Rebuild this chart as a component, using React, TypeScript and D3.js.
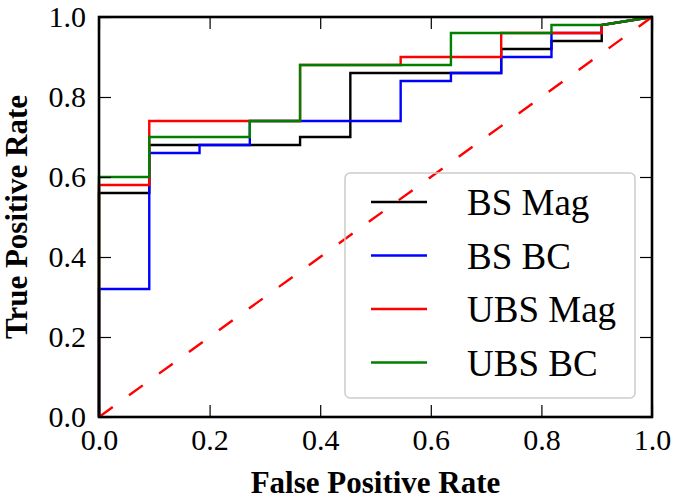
import React, { useEffect, useRef } from "react";
import * as d3 from "d3";

// FPR / TPR points (ROC step curves)
const bsMagFpr = [0, 0, 0.0909, 0.0909, 0.3636, 0.3636, 0.4545, 0.4545, 0.7273, 0.7273, 0.8182, 0.8182, 0.9091, 0.9091, 1];
const bsMagTpr = [0, 0.56, 0.56, 0.68, 0.68, 0.70, 0.70, 0.86, 0.86, 0.92, 0.92, 0.94, 0.94, 0.98, 1];

const bsBcFpr = [0, 0, 0.0909, 0.0909, 0.1818, 0.1818, 0.2727, 0.2727, 0.5455, 0.5455, 0.6364, 0.6364, 0.7273, 0.7273, 0.8182, 0.8182, 0.9091, 0.9091, 1];
const bsBcTpr = [0, 0.32, 0.32, 0.66, 0.66, 0.68, 0.68, 0.74, 0.74, 0.84, 0.84, 0.86, 0.86, 0.90, 0.90, 0.96, 0.96, 0.98, 1];

const ubsMagFpr = [0, 0, 0.0909, 0.0909, 0.3636, 0.3636, 0.5455, 0.5455, 0.7273, 0.7273, 0.9091, 0.9091, 1];
const ubsMagTpr = [0, 0.58, 0.58, 0.74, 0.74, 0.88, 0.88, 0.90, 0.90, 0.96, 0.96, 0.98, 1];

const ubsBcFpr = [0, 0, 0.0909, 0.0909, 0.2727, 0.2727, 0.3636, 0.3636, 0.6364, 0.6364, 0.8182, 0.8182, 0.9091, 1];
const ubsBcTpr = [0, 0.60, 0.60, 0.70, 0.70, 0.74, 0.74, 0.88, 0.88, 0.96, 0.96, 0.98, 0.98, 1];

const seriesNames = ["BS Mag", "BS BC", "UBS Mag", "UBS BC"];
const seriesColors = ["#000000", "#0000ff", "#ff0000", "#008000"];
const seriesFpr = [bsMagFpr, bsBcFpr, ubsMagFpr, ubsBcFpr];
const seriesTpr = [bsMagTpr, bsBcTpr, ubsMagTpr, ubsBcTpr];

const chanceX = [0, 1];
const chanceY = [0, 1];

const tickValues = [0, 0.2, 0.4, 0.6, 0.8, 1.0];
const xLabel = "False Positive Rate";
const yLabel = "True Positive Rate";

const W = 675;
const H = 500;
const M = { left: 99, right: 23, top: 17, bottom: 83 };
const FONT = "'Liberation Serif', 'Times New Roman', serif";

export default function App() {
  const ref = useRef<SVGSVGElement>(null);

  useEffect(() => {
    const svg = d3.select(ref.current);
    svg.selectAll("*").remove();

    const x = d3.scaleLinear().domain([0, 1]).range([M.left, W - M.right]);
    const y = d3.scaleLinear().domain([0, 1]).range([H - M.bottom, M.top]);

    const g = svg.append("g");

    const line = d3
      .line<[number, number]>()
      .x((d) => x(d[0]))
      .y((d) => y(d[1]));

    // curves
    seriesNames.forEach((name, i) => {
      const pts: [number, number][] = seriesFpr[i].map((f, j) => [f, seriesTpr[i][j]]);
      g.append("path")
        .attr("d", line(pts))
        .attr("fill", "none")
        .attr("stroke", seriesColors[i])
        .attr("stroke-width", 2.4)
        .attr("stroke-linejoin", "miter");
    });

    // chance diagonal
    g.append("path")
      .attr("d", line(chanceX.map((v, j) => [v, chanceY[j]] as [number, number])))
      .attr("fill", "none")
      .attr("stroke", "#ff0000")
      .attr("stroke-width", 2.4)
      .attr("stroke-dasharray", "17,20");

    const fmt = d3.format(".1f");
    const tickLen = 12;

    const styleAxis = (sel: any, labels: boolean) => {
      sel.select(".domain").remove();
      sel.selectAll(".tick line").attr("stroke", "#000").attr("stroke-width", 1.2);
      sel
        .selectAll(".tick text")
        .attr("font-family", FONT)
        .attr("font-size", 30)
        .attr("fill", "#000");
      if (!labels) sel.selectAll(".tick text").remove();
    };

    // bottom
    const ax = svg
      .append("g")
      .attr("transform", `translate(0,${H - M.bottom})`)
      .call(d3.axisBottom(x).tickValues(tickValues).tickFormat(fmt as any).tickSize(-tickLen).tickPadding(12));
    styleAxis(ax, true);
    // top
    const axT = svg
      .append("g")
      .attr("transform", `translate(0,${M.top})`)
      .call(d3.axisTop(x).tickValues(tickValues).tickSize(-tickLen));
    styleAxis(axT, false);
    // left
    const ay = svg
      .append("g")
      .attr("transform", `translate(${M.left},0)`)
      .call(d3.axisLeft(y).tickValues(tickValues).tickFormat(fmt as any).tickSize(-tickLen).tickPadding(13));
    styleAxis(ay, true);
    // right
    const ayR = svg
      .append("g")
      .attr("transform", `translate(${W - M.right},0)`)
      .call(d3.axisRight(y).tickValues(tickValues).tickSize(-tickLen));
    styleAxis(ayR, false);

    // frame
    svg
      .append("rect")
      .attr("x", M.left)
      .attr("y", M.top)
      .attr("width", W - M.left - M.right)
      .attr("height", H - M.top - M.bottom)
      .attr("fill", "none")
      .attr("stroke", "#000")
      .attr("stroke-width", 2.6);

    // axis labels
    svg
      .append("text")
      .attr("x", (M.left + W - M.right) / 2)
      .attr("y", 493)
      .attr("text-anchor", "middle")
      .attr("font-family", FONT)
      .attr("font-weight", "bold")
      .attr("font-size", 31)
      .text(xLabel);
    svg
      .append("text")
      .attr("transform", `translate(27,${(M.top + H - M.bottom) / 2}) rotate(-90)`)
      .attr("text-anchor", "middle")
      .attr("font-family", FONT)
      .attr("font-weight", "bold")
      .attr("font-size", 31)
      .text(yLabel);

    // legend
    const lg = svg.append("g");
    lg.append("rect")
      .attr("x", 345)
      .attr("y", 173)
      .attr("width", 290)
      .attr("height", 225)
      .attr("rx", 5)
      .attr("fill", "none")
      .attr("stroke", "#cccccc")
      .attr("stroke-width", 1.5);
    seriesNames.forEach((name, i) => {
      const yy = 202 + i * 53.5;
      lg.append("line")
        .attr("x1", 371)
        .attr("x2", 427)
        .attr("y1", yy)
        .attr("y2", yy)
        .attr("stroke", seriesColors[i])
        .attr("stroke-width", 2.4);
      lg.append("text")
        .attr("x", 467)
        .attr("y", yy + 13)
        .attr("font-family", FONT)
        .attr("font-size", 37)
        .attr("fill", "#000")
        .text(name);
    });
  }, []);

  return (
    <svg
      ref={ref}
      width={W}
      height={H}
      style={{ position: "absolute", left: 0, top: 0, background: "#fff" }}
    />
  );
}
